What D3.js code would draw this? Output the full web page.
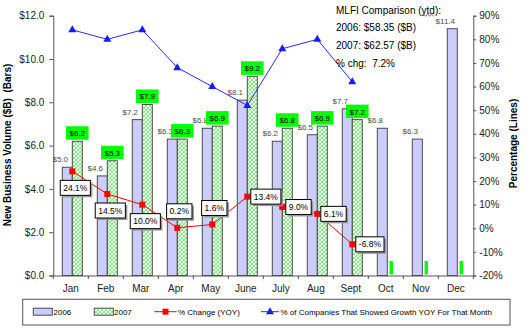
<!DOCTYPE html>
<html><head><meta charset="utf-8">
<script src="https://cdn.jsdelivr.net/npm/d3@7"></script>
<style>
html,body{margin:0;padding:0;background:#fff;}
svg{display:block;font-family:"Liberation Sans",Arial,sans-serif;}
svg text{white-space:pre;}
</style></head>
<body>
<svg id="chart" width="530" height="328"></svg>
<script>
const months = ["Jan","Feb","Mar","Apr","May","June","July","Aug","Sept","Oct","Nov","Dec"];
const vol2006 = [5.0,4.6,7.2,6.3,6.8,8.1,6.2,6.5,7.7,6.8,6.3,11.4];
const vol2007 = [6.2,5.3,7.9,6.3,6.9,9.2,6.8,6.9,7.2,null,null,null];
const pctChange = [24.1,14.5,10.0,0.2,1.6,13.4,9.0,6.1,-6.8,null,null,null];
const pctGrowth = [84,80,84,68,60,52,76,80,62,null,null,null];
const leftTicks = [0,2,4,6,8,10,12];
const rightTicks = [-20,-10,0,10,20,30,40,50,60,70,80,90];
const pctLabelPlacement = ["below","below","below","above","above","right","right","right","right"];
const seriesNames = ["2006","2007","% Change (YOY)","% of Companies That Showed Growth YOY For That Month"];
const noteLines = ["MLFI Comparison (ytd):","2006: $58.35 ($B)","2007: $62.57 ($B)","% chg:  7.2%"];

const svg = d3.select("#chart");
const L = 53.3, R = 473.3, T = 15.7, B = 275.5;

const defs = svg.append("defs");
const pat = defs.append("pattern").attr("id","hatch").attr("width",4).attr("height",4).attr("patternUnits","userSpaceOnUse");
pat.append("rect").attr("width",4).attr("height",4).attr("fill","#f2fff2");
pat.append("path").attr("d","M0,4 L4,0 M-1,1 L1,-1 M3,5 L5,3").attr("stroke","#55e055").attr("stroke-width",0.8);
pat.append("path").attr("d","M0,0 L4,4 M-1,3 L1,5 M3,-1 L5,1").attr("stroke","#7fe87f").attr("stroke-width",0.8);

const x = d3.scaleBand().domain(months).range([L,R]).padding(0);
const bw = x.bandwidth();
const sub = d3.scaleBand().domain(["2006","2007"]).range([bw*9/35, bw*29/35]).padding(0);
const yL = d3.scaleLinear().domain([0,12]).range([B,T]);
const yR = d3.scaleLinear().domain([-20,90]).range([B,T]);
const cx = m => x(m) + bw*19/35;

// bars 2006
svg.append("g").selectAll("rect").data(months).join("rect")
  .attr("x", m => x(m)+sub("2006")).attr("width", sub.bandwidth())
  .attr("y", (m,i) => yL(vol2006[i])).attr("height", (m,i) => yL(0)-yL(vol2006[i]))
  .attr("fill","#ccccff").attr("stroke","#4a4a4a").attr("stroke-width",1);
// bars 2007
const d07 = months.map((m,i)=>({m,v:vol2007[i]}));
svg.append("g").selectAll("rect").data(d07.filter(d=>d.v!=null)).join("rect")
  .attr("x", d => x(d.m)+sub("2007")).attr("width", sub.bandwidth())
  .attr("y", d => yL(d.v)).attr("height", d => yL(0)-yL(d.v))
  .attr("fill","url(#hatch)").attr("stroke","#4a4a4a").attr("stroke-width",1);

// axes
const axL = d3.axisLeft(yL).tickValues(leftTicks).tickFormat(d=>"$"+d.toFixed(1)).tickSize(4).tickPadding(5);
const gL = svg.append("g").attr("transform",`translate(${L},0)`).call(axL);
const axR = d3.axisRight(yR).tickValues(rightTicks).tickFormat(d=>d+"%").tickSize(3).tickPadding(3);
const gR = svg.append("g").attr("transform",`translate(${R},0)`).call(axR);
[gL,gR].forEach(g=>{
  g.selectAll("path.domain").attr("stroke","#555");
  g.selectAll(".tick line").attr("stroke","#555");
  g.selectAll("text").attr("font-size",10).attr("fill","#222").attr("font-family","Liberation Sans, Arial");
});
const axB = d3.axisBottom(x).tickSize(0).tickPadding(9);
const gB = svg.append("g").attr("transform",`translate(0,${B})`).call(axB);
gB.selectAll("path.domain").attr("stroke","#555");
gB.selectAll("text").attr("font-size",10).attr("fill","#222").attr("font-family","Liberation Sans, Arial");
const bounds = months.map(m=>x(m)).concat([R]);
svg.append("g").selectAll("line").data(bounds).join("line")
  .attr("x1",d=>d).attr("x2",d=>d).attr("y1",B).attr("y2",B+3.5).attr("stroke","#555");

// 2006 labels
svg.append("g").selectAll("text").data(months).join("text")
  .attr("x",m=>x(m)+sub("2006")+sub.bandwidth()/2-7).attr("y",(m,i)=>yL(vol2006[i])-5)
  .attr("text-anchor","middle").attr("font-size",8).attr("fill","#4d4d4d")
  .text((m,i)=>"$"+vol2006[i].toFixed(1));

// 2007 label boxes
const g07 = svg.append("g");
d07.forEach(d=>{
  const c = x(d.m)+sub("2007")+sub.bandwidth()/2;
  const base = d.v==null ? yL(0)-1 : yL(d.v)-1.5;
  const txt = d.v==null ? "" : "$"+d.v.toFixed(1);
  const t = g07.append("text").attr("x",c).attr("y",base-3.5).attr("text-anchor","middle")
    .attr("font-size",8).attr("fill","#000").text(txt);
  const w = txt ? t.node().getComputedTextLength()+7 : 3.5;
  g07.insert("rect","text").attr("x",c-w/2-(txt?0:1)).attr("y",base-13.5).attr("width",w).attr("height",13.5).attr("fill","#00ff00");
});

// red line
const redPts = months.map((m,i)=>({m,v:pctChange[i],i})).filter(d=>d.v!=null);
svg.append("path").datum(redPts)
  .attr("d", d3.line().x(d=>cx(d.m)).y(d=>yR(d.v)))
  .attr("fill","none").attr("stroke","#ff0000").attr("stroke-width",1);
svg.append("g").selectAll("rect").data(redPts).join("rect")
  .attr("x",d=>cx(d.m)-3).attr("y",d=>yR(d.v)-3).attr("width",6).attr("height",6).attr("fill","#ff0000");

// blue line
const bluePts = months.map((m,i)=>({m,v:pctGrowth[i]})).filter(d=>d.v!=null);
svg.append("path").datum(bluePts)
  .attr("d", d3.line().x(d=>cx(d.m)).y(d=>yR(d.v)))
  .attr("fill","none").attr("stroke","#2a2aff").attr("stroke-width",1);
svg.append("g").selectAll("path").data(bluePts).join("path")
  .attr("d",d=>{const px=cx(d.m),py=yR(d.v);return `M${px},${py-4.5}L${px+4},${py+2.5}L${px-4},${py+2.5}Z`;})
  .attr("fill","#1a1aff");

// red labels
const gLab = svg.append("g");
redPts.forEach(d=>{
  const px=cx(d.m), py=yR(d.v);
  const txt = d.v.toFixed(1)+"%";
  const grp = gLab.append("g");
  const t = grp.append("text").attr("font-size",8.5).attr("fill","#000").text(txt);
  const tw = t.node().getComputedTextLength();
  const w = tw+6, h = 15;
  const pl = pctLabelPlacement[d.i];
  let bx, by;
  if (pl==="below"){ bx = px+3-w/2; by = py+9; }
  else if (pl==="above"){ bx = px+2-w/2; by = py-9-h; }
  else { bx = px+3.5; by = py-h/2; }
  grp.insert("rect","text").attr("x",bx+2).attr("y",by+2).attr("width",w).attr("height",h).attr("fill","#999");
  grp.insert("rect","text").attr("x",bx).attr("y",by).attr("width",w).attr("height",h).attr("fill","#fff").attr("stroke","#000").attr("stroke-width",1);
  t.attr("x",bx+3).attr("y",by+h/2+3);
});

// axis titles
svg.append("text").attr("transform","translate(11,145) rotate(-90)").attr("text-anchor","middle")
  .attr("font-size",10).attr("font-weight","bold").attr("fill","#000").text("New Business Volume ($B)  (Bars)");
svg.append("text").attr("transform","translate(517,143.5) rotate(-90)").attr("text-anchor","middle")
  .attr("font-size",10).attr("font-weight","bold").attr("fill","#000").text("Percentage (Lines)");

// note
const gN = svg.append("g");
noteLines.forEach((s,i)=>{
  gN.append("text").attr("x",336).attr("y",13.5+i*17.8).attr("font-size",10).attr("fill","#000").text(s);
});
{
  const t0 = gN.select("text").node();
  const s = noteLines[0], k = s.indexOf("ytd");
  const x0 = 336 + t0.getSubStringLength(0,k), x1 = x0 + t0.getSubStringLength(k,3);
  let dpath = `M${x0},16`; let up=true;
  for(let xx=x0+2; xx<=x1+0.1; xx+=2){ dpath += `L${xx},${up?14.5:16}`; up=!up; }
  gN.append("path").attr("d",dpath).attr("fill","none").attr("stroke","#ff0000").attr("stroke-width",0.8);
}

// legend
const lg = svg.append("g");
lg.append("rect").attr("x",22.7).attr("y",299.3).attr("width",487.3).attr("height",25.7).attr("fill","#fff").attr("stroke","#555");
const ly = 311.7;
lg.append("rect").attr("x",33.3).attr("y",ly-3.5).attr("width",19).attr("height",7).attr("fill","#ccccff").attr("stroke","#4a4a4a");
lg.append("text").attr("x",53.5).attr("y",ly+3).attr("font-size",8).text(seriesNames[0]);
lg.append("rect").attr("x",94.3).attr("y",ly-3.5).attr("width",19).attr("height",7).attr("fill","url(#hatch)").attr("stroke","#4a4a4a");
lg.append("text").attr("x",114).attr("y",ly+3).attr("font-size",8).text(seriesNames[1]);
lg.append("line").attr("x1",154.3).attr("x2",176.7).attr("y1",ly).attr("y2",ly).attr("stroke","#ff0000");
lg.append("rect").attr("x",162.5).attr("y",ly-3).attr("width",6).attr("height",6).attr("fill","#ff0000");
lg.append("text").attr("x",178).attr("y",ly+3).attr("font-size",8).text(seriesNames[2]);
lg.append("line").attr("x1",261).attr("x2",279).attr("y1",ly).attr("y2",ly).attr("stroke","#2a2aff");
lg.append("path").attr("d",`M270,${ly-4.5}L274,${ly+2.5}L266,${ly+2.5}Z`).attr("fill","#1a1aff");
lg.append("text").attr("x",280.5).attr("y",ly+3).attr("font-size",8).text(seriesNames[3]);
</script>
</body></html>
